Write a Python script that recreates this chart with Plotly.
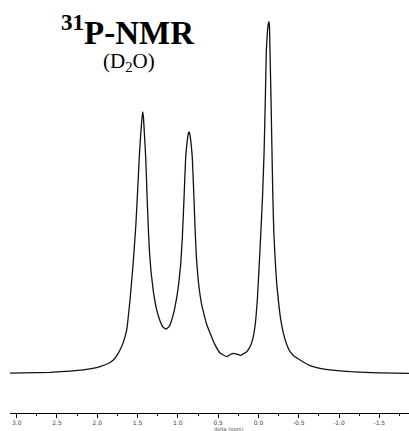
import plotly.graph_objects as go

# chemical shift (ppm) and relative intensity (tallest peak = 100)
ppm = [3.083, 2.587, 2.174, 1.966, 1.860, 1.801, 1.760, 1.718, 1.675, 1.635, 1.594, 1.556,
       1.522, 1.499, 1.479, 1.461, 1.446, 1.436, 1.426, 1.415, 1.399, 1.383, 1.367, 1.352,
       1.333, 1.305, 1.265, 1.222, 1.185, 1.147, 1.110, 1.076, 1.035, 0.995, 0.965, 0.945,
       0.925, 0.903, 0.882, 0.870, 0.862, 0.854, 0.842, 0.821, 0.804, 0.787, 0.770, 0.745,
       0.704, 0.675, 0.650, 0.601, 0.540, 0.477, 0.394, 0.340, 0.312, 0.270, 0.220, 0.146,
       0.100, 0.064, 0.035, 0.014, -0.019, -0.050, -0.070, -0.085, -0.098, -0.112, -0.124,
       -0.131, -0.137, -0.143, -0.156, -0.177, -0.190, -0.206, -0.225, -0.246, -0.275,
       -0.309, -0.350, -0.392, -0.440, -0.483, -0.516, -0.640, -0.764, -0.950, -1.136,
       -1.500, -1.868]
intensity = [0.1, 0.34, 1.0, 1.93, 2.9, 3.84, 5.0, 6.68, 9.0, 12.4, 20.9, 31.0,
             42.0, 52.0, 61.5, 68.0, 72.5, 74.4, 72.5, 68.0, 61.5, 51.0, 41.5, 34.5,
             29.0, 23.5, 18.3, 15.0, 13.2, 12.6, 13.3, 15.2, 19.0, 24.5, 31.0, 38.5,
             49.0, 61.5, 66.5, 68.3, 68.7, 68.3, 66.5, 61.5, 52.0, 41.5, 33.0, 26.0,
             19.5, 16.8, 14.5, 11.5, 8.2, 5.83, 4.78, 5.5, 5.74, 5.54, 5.17, 6.2,
             7.8, 10.5, 15.0, 20.9, 35.1, 50.0, 63.0, 77.8, 92.0, 97.5, 99.5,
             100.0, 98.5, 92.0, 77.8, 52.0, 40.5, 33.0, 26.0, 21.0, 15.5,
             11.5, 8.3, 6.2, 5.0, 4.32, 3.84, 2.22, 1.48, 0.9, 0.51,
             0.2, 0.06]

tick_vals = [3.0, 2.5, 2.0, 1.5, 1.0, 0.5, 0.0, -0.5, -1.0, -1.5]
tick_text = ["3.0", "2.5", "2.0", "1.5", "1.0", "0.5", "0.0", "-0.5", "-1.0", "-1.5"]

fig = go.Figure()
fig.add_trace(go.Scatter(x=ppm, y=intensity, mode="lines",
                         line=dict(color="#111111", width=1.3, shape="spline", smoothing=0.3),
                         hoverinfo="skip", showlegend=False))

fig.update_layout(
    width=409, height=431,
    margin=dict(l=10, r=0, t=0, b=18),
    paper_bgcolor="white", plot_bgcolor="white",
    xaxis=dict(range=[3.083, -1.868], showgrid=False, zeroline=False,
               showline=True, linecolor="black", linewidth=1,
               ticks="outside", ticklen=4, tickwidth=1, tickcolor="black",
               tickvals=tick_vals, ticktext=tick_text,
               tickfont=dict(family="DejaVu Sans", size=6, color="#444444"),
               minor=dict(ticks="outside", ticklen=2, tickwidth=1, tickcolor="black",
                          dtick=0.25, tick0=0, showgrid=False),
               fixedrange=True),
    yaxis=dict(range=[-11.23, 106.18], visible=False, fixedrange=True),
    annotations=[
        dict(text="<b><sup>31</sup>P-NMR</b>", xref="paper", yref="paper",
             x=(128 - 10) / 399, y=(413 - 7) / 413, xanchor="center", yanchor="top",
             showarrow=False, font=dict(family="Liberation Serif", size=33, color="black")),
        dict(text="(D<sub>2</sub>O)", xref="paper", yref="paper",
             x=(129 - 10) / 399, y=(413 - 47) / 413, xanchor="center", yanchor="top",
             showarrow=False, font=dict(family="Liberation Serif", size=21, color="black")),
        dict(text="delta (ppm)", xref="paper", yref="paper",
             x=(228 - 10) / 399, y=(413 - 429) / 413, xanchor="center", yanchor="middle",
             showarrow=False, font=dict(family="DejaVu Sans", size=5, color="#444444")),
    ],
)

fig.write_html("out.html")
